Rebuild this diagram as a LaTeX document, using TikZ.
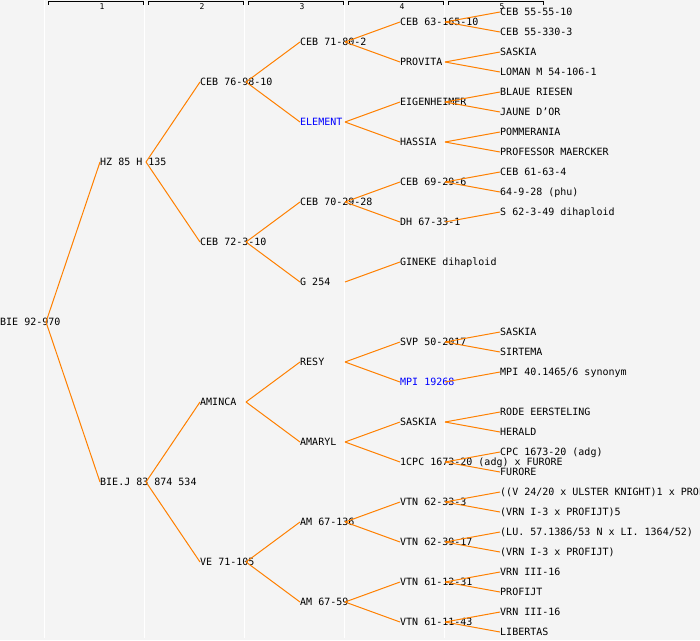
\documentclass[tikz,border=0pt]{standalone}
\usepackage{fontspec}
\newfontfamily\pedfont{DejaVu Sans Mono}
\definecolor{panel}{HTML}{F4F4F4}
\definecolor{linkorange}{HTML}{FF8000}
\definecolor{namblue}{HTML}{0000FF}

\begin{document}
\begin{tikzpicture}[x=1pt,y=-1pt,
  plant/.style={anchor=west,inner sep=0pt,text height=7.3pt,text depth=0pt,
    font=\pedfont\fontsize{10}{10}\selectfont},
  blueplant/.style={plant,text=namblue},
  link/.style={draw=linkorange,line width=1pt},
  bracket/.style={draw=black,line width=0.9pt},
  colnum/.style={inner sep=0pt,font=\pedfont\fontsize{8}{8}\selectfont}]
\useasboundingbox[fill=panel] (0,0) rectangle (700,640);
\clip (0,0) rectangle (700,640);

% column guides and header
\foreach \c in {1,...,5} {
  \draw[white,line width=1pt] (100*\c-55.5,0) -- (100*\c-55.5,638);
  \draw[bracket] (100*\c-52,4.5) |- (100*\c+43,1.5) -- ++(0,3);
  \node[colnum] (col_\c) at (100*\c+2,6.3) {\c};
}

% generation 0 and 1
\node[plant] (bie)  at (0,322)   {BIE 92-970};
\node[plant] (hz)   at (100,162) {HZ 85 H 135};
\node[plant] (biej) at (100,482) {BIE.J 83 874 534};

% generation 2
\node[plant] (ceb76)  at (200,82)  {CEB 76-98-10};
\node[plant] (ceb72)  at (200,242) {CEB 72-3-10};
\node[plant] (aminca) at (200,402) {AMINCA};
\node[plant] (ve71)   at (200,562) {VE 71-105};

% generation 3
\node[plant]     (ceb71)   at (300,42)  {CEB 71-80-2};
\node[blueplant] (element) at (300,122) {ELEMENT};
\node[plant]     (ceb70)   at (300,202) {CEB 70-29-28};
\node[plant]     (g254)    at (300,282) {G 254};
\node[plant]     (resy)    at (300,362) {RESY};
\node[plant]     (amaryl)  at (300,442) {AMARYL};
\node[plant]     (am136)   at (300,522) {AM 67-136};
\node[plant]     (am59)    at (300,602) {AM 67-59};

% generation 4
\node[plant]     (ceb63)   at (400,22)  {CEB 63-165-10};
\node[plant]     (provita) at (400,62)  {PROVITA};
\node[plant]     (eigen)   at (400,102) {EIGENHEIMER};
\node[plant]     (hassia)  at (400,142) {HASSIA};
\node[plant]     (ceb69)   at (400,182) {CEB 69-29-6};
\node[plant]     (dh67)    at (400,222) {DH 67-33-1};
\node[plant]     (gineke)  at (400,262) {GINEKE dihaploid};
\node[plant]     (svp)     at (400,342) {SVP 50-2017};
\node[blueplant] (mpi)     at (400,382) {MPI 19268};
\node[plant]     (saskia_b) at (400,422) {SASKIA};
\node[plant]     (cpc)     at (400,462) {1CPC 1673-20 (adg) x FURORE};
\node[plant]     (vtn33)   at (400,502) {VTN 62-33-3};
\node[plant]     (vtn39)   at (400,542) {VTN 62-39-17};
\node[plant]     (vtn12)   at (400,582) {VTN 61-12-31};
\node[plant]     (vtn11)   at (400,622) {VTN 61-11-43};

% generation 5
\node[plant] (ceb5555)  at (500,12)  {CEB 55-55-10};
\node[plant] (ceb55330) at (500,32)  {CEB 55-330-3};
\node[plant] (saskia_a) at (500,52)  {SASKIA};
\node[plant] (loman)    at (500,72)  {LOMAN M 54-106-1};
\node[plant] (blaue)    at (500,92)  {BLAUE RIESEN};
\node[plant] (jaune)    at (500,112) {JAUNE D’OR};
\node[plant] (pommer)   at (500,132) {POMMERANIA};
\node[plant] (prof)     at (500,152) {PROFESSOR MAERCKER};
\node[plant] (ceb6163)  at (500,172) {CEB 61-63-4};
\node[plant] (phu)      at (500,192) {64-9-28 (phu)};
\node[plant] (s62)      at (500,212) {S 62-3-49 dihaploid};
\node[plant] (saskia_c) at (500,332) {SASKIA};
\node[plant] (sirtema)  at (500,352) {SIRTEMA};
\node[plant] (mpi40)    at (500,372) {MPI 40.1465/6 synonym};
\node[plant] (rode)     at (500,412) {RODE EERSTELING};
\node[plant] (herald)   at (500,432) {HERALD};
\node[plant] (cpc1673)  at (500,452) {CPC 1673-20 (adg)};
\node[plant] (furore)   at (500,472) {FURORE};
\node[plant] (v2420)    at (500,492) {((V 24/20 x ULSTER KNIGHT)1 x PROF};
\node[plant] (vrn_a)    at (500,512) {(VRN I-3 x PROFIJT)5};
\node[plant] (lu57)     at (500,532) {(LU. 57.1386/53 N x LI. 1364/52)};
\node[plant] (vrn_b)    at (500,552) {(VRN I-3 x PROFIJT)};
\node[plant] (vrn3_a)   at (500,572) {VRN III-16};
\node[plant] (profijt)  at (500,592) {PROFIJT};
\node[plant] (vrn3_b)   at (500,612) {VRN III-16};
\node[plant] (libertas) at (500,632) {LIBERTAS};

% joints where the parent lines leave
\coordinate (j_bie)     at (46,322);
\coordinate (j_hz)      at (146,162);
\coordinate (j_biej)    at (146,482);
\coordinate (j_ceb76)   at (246,82);
\coordinate (j_ceb72)   at (246,242);
\coordinate (j_aminca)  at (246,402);
\coordinate (j_ve71)    at (246,562);
\coordinate (j_ceb71)   at (345,42);
\coordinate (j_element) at (345,122);
\coordinate (j_ceb70)   at (345,202);
\coordinate (j_g254)    at (345,282);
\coordinate (j_resy)    at (345,362);
\coordinate (j_amaryl)  at (345,442);
\coordinate (j_am136)   at (345,522);
\coordinate (j_am59)    at (345,602);
\coordinate (j_ceb63)   at (445,22);
\coordinate (j_provita) at (445,62);
\coordinate (j_eigen)   at (445,102);
\coordinate (j_hassia)  at (445,142);
\coordinate (j_ceb69)   at (445,182);
\coordinate (j_dh67)    at (445,222);
\coordinate (j_svp)     at (445,342);
\coordinate (j_mpi)     at (445,382);
\coordinate (j_saskia)  at (445,422);
\coordinate (j_cpc)     at (445,462);
\coordinate (j_vtn33)   at (445,502);
\coordinate (j_vtn39)   at (445,542);
\coordinate (j_vtn12)   at (445,582);
\coordinate (j_vtn11)   at (445,622);

\path[link] (j_bie)     edge (hz.west)       edge (biej.west)
            (j_hz)      edge (ceb76.west)    edge (ceb72.west)
            (j_biej)    edge (aminca.west)   edge (ve71.west)
            (j_ceb76)   edge (ceb71.west)    edge (element.west)
            (j_ceb72)   edge (ceb70.west)    edge (g254.west)
            (j_aminca)  edge (resy.west)     edge (amaryl.west)
            (j_ve71)    edge (am136.west)    edge (am59.west)
            (j_ceb71)   edge (ceb63.west)    edge (provita.west)
            (j_element) edge (eigen.west)    edge (hassia.west)
            (j_ceb70)   edge (ceb69.west)    edge (dh67.west)
            (j_g254)    edge (gineke.west)
            (j_resy)    edge (svp.west)      edge (mpi.west)
            (j_amaryl)  edge (saskia_b.west) edge (cpc.west)
            (j_am136)   edge (vtn33.west)    edge (vtn39.west)
            (j_am59)    edge (vtn12.west)    edge (vtn11.west)
            (j_ceb63)   edge (ceb5555.west)  edge (ceb55330.west)
            (j_provita) edge (saskia_a.west) edge (loman.west)
            (j_eigen)   edge (blaue.west)    edge (jaune.west)
            (j_hassia)  edge (pommer.west)   edge (prof.west)
            (j_ceb69)   edge (ceb6163.west)  edge (phu.west)
            (j_dh67)    edge (s62.west)
            (j_svp)     edge (saskia_c.west) edge (sirtema.west)
            (j_mpi)     edge (mpi40.west)
            (j_saskia)  edge (rode.west)     edge (herald.west)
            (j_cpc)     edge (cpc1673.west)  edge (furore.west)
            (j_vtn33)   edge (v2420.west)    edge (vrn_a.west)
            (j_vtn39)   edge (lu57.west)     edge (vrn_b.west)
            (j_vtn12)   edge (vrn3_a.west)   edge (profijt.west)
            (j_vtn11)   edge (vrn3_b.west)   edge (libertas.west);
\end{tikzpicture}
\end{document}
